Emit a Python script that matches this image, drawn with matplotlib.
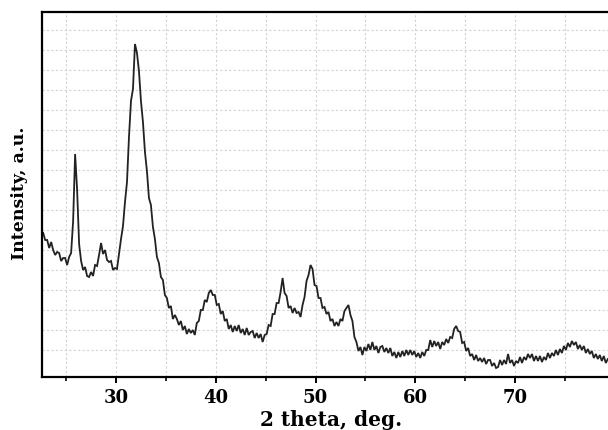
import numpy as np
import matplotlib
matplotlib.use("Agg")
import matplotlib.pyplot as plt
from matplotlib.ticker import FixedLocator

two_theta = np.round(np.arange(284) * 0.2 + 22.7, 1)
intensity = [
    137, 130, 130, 122, 128, 120, 115, 118, 117, 109, 112, 112, 105, 113, 117, 149, 216, 180, 126, 109,
    100, 103, 94, 93, 98, 94, 105, 104, 115, 127, 116, 120, 110, 108, 109, 100, 102, 101, 116, 131,
    144, 168, 188, 233, 269, 281, 326, 317, 299, 269, 248, 218, 199, 172, 165, 143, 131, 113, 107, 93,
    90, 75, 72, 62, 64, 51, 55, 51, 45, 49, 40, 44, 36, 41, 37, 40, 35, 47, 49, 60,
    60, 70, 68, 77, 80, 75, 75, 65, 66, 56, 59, 49, 51, 41, 45, 38, 44, 39, 45, 37,
    41, 35, 42, 35, 38, 39, 32, 37, 32, 36, 28, 35, 36, 45, 44, 56, 56, 67, 67, 78,
    92, 77, 74, 62, 64, 57, 62, 57, 58, 53, 65, 73, 89, 95, 105, 101, 85, 84, 72, 72,
    62, 63, 56, 58, 49, 51, 44, 48, 44, 51, 49, 59, 62, 65, 55, 49, 33, 28, 19, 23,
    15, 23, 19, 26, 20, 28, 20, 24, 17, 23, 24, 18, 22, 17, 22, 14, 18, 12, 18, 13,
    19, 14, 20, 15, 20, 15, 19, 13, 17, 12, 18, 14, 20, 20, 30, 23, 29, 24, 28, 21,
    28, 25, 31, 27, 33, 32, 41, 44, 39, 38, 27, 28, 19, 22, 14, 16, 10, 15, 9, 12,
    8, 12, 6, 10, 10, 4, 7, 2, 3, 10, 5, 10, 6, 16, 7, 10, 4, 9, 7, 13,
    7, 13, 10, 16, 12, 16, 9, 14, 9, 14, 8, 13, 10, 17, 12, 17, 14, 20, 15, 21,
    17, 24, 20, 27, 23, 29, 25, 28, 21, 25, 20, 24, 17, 21, 16, 19, 12, 16, 11, 15,
    9, 14, 7, 11,
]
major_ticks = [30, 40, 50, 60, 70]
minor_ticks = [25, 35, 45, 55, 65, 75]
x_label = "2 theta, deg."
y_label = "Intensity, a.u."

plt.rcParams['font.family'] = ['DejaVu Serif']

fig = plt.figure(figsize=(6.08, 4.31), dpi=100)
ax = fig.add_axes([41.7 / 608, 53 / 431, 1 - 41.7 / 608, (378 - 12.7) / 431])

ax.plot(two_theta, intensity, color='#222222', lw=1.3, solid_joinstyle='miter')

ax.set_xlim(22.55, 79.32)
ax.set_ylim(-7, 358.3)

ax.xaxis.set_major_locator(FixedLocator(major_ticks))
ax.xaxis.set_minor_locator(FixedLocator(minor_ticks))
ax.set_yticks([])

# grid
for gx in major_ticks + minor_ticks:
    ax.axvline(gx, color='#d2d2d2', lw=0.8, ls=(0, (2, 2)), zorder=0)
for gy in range(20, 341, 20):
    ax.axhline(gy, color='#d2d2d2', lw=0.8, ls=(0, (2, 2)), zorder=0)

for s in ['left', 'top', 'bottom']:
    ax.spines[s].set_linewidth(1.6)
ax.spines['right'].set_visible(False)

ax.tick_params(axis='x', which='major', direction='out', length=4, width=1.4, pad=4,
               labelsize=13)
ax.tick_params(axis='x', which='minor', direction='out', length=3, width=1.2)
for lab in ax.get_xticklabels():
    lab.set_fontweight('bold')

ax.set_xlabel(x_label, fontsize=14.5, fontweight='bold', va='top')
ax.xaxis.set_label_coords((331 - 41.7) / (608 - 41.7), -(410 - 378) / 365.3)
ax.set_ylabel(y_label, fontsize=12.5, fontweight='bold')
ax.yaxis.set_label_coords(-(41.7 - 28) / 566.3, 0.505)

fig.savefig("out.png", dpi=100)
